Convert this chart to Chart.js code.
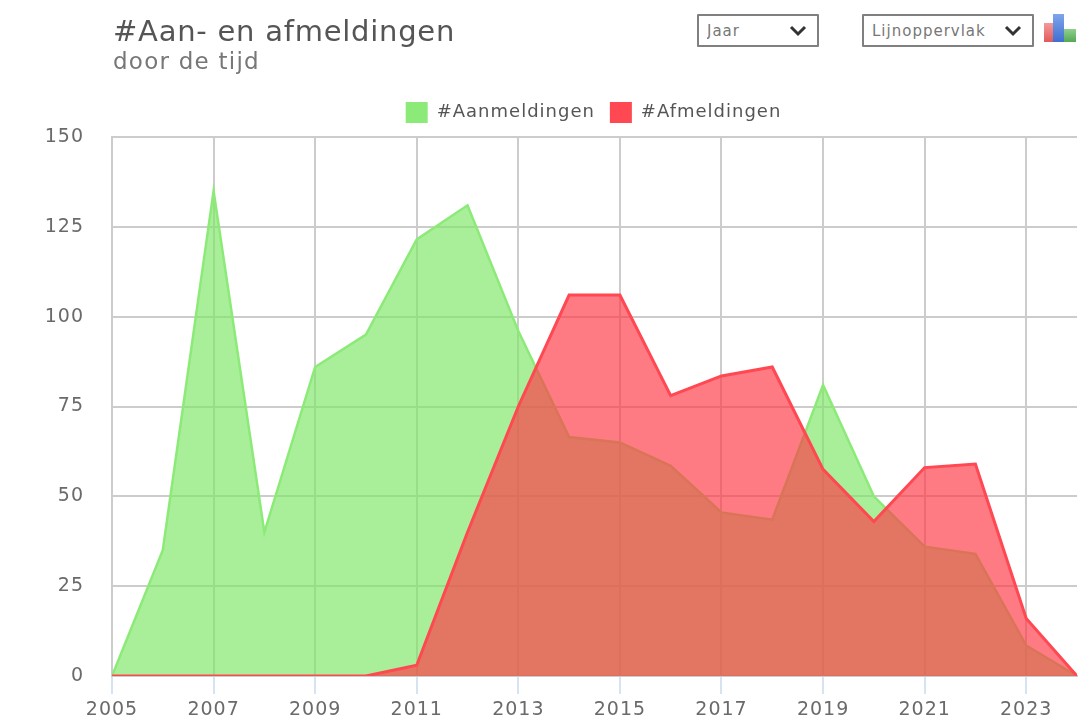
<!DOCTYPE html>
<html lang="nl">
<head>
<meta charset="utf-8">
<title>#Aan- en afmeldingen</title>
<script src="https://cdn.jsdelivr.net/npm/chart.js@4/dist/chart.umd.min.js"></script>
<style>
html,body{margin:0;padding:0;background:#fff;width:1078px;height:720px;overflow:hidden}
#page{position:relative;width:1078px;height:720px;filter:blur(.6px);font-family:"DejaVu Sans",sans-serif}
#c{position:absolute;left:0;top:0}
.t{position:absolute;white-space:nowrap}
#title{left:113px;top:13px;font-size:29px;letter-spacing:.75px;color:#555;line-height:36px}
#sub{left:113px;top:46px;font-size:23px;letter-spacing:1.25px;color:#777;line-height:30px}
select{position:absolute;top:14px;height:33px;box-sizing:border-box;border:2px solid #808080;background:#fff no-repeat;appearance:none;-webkit-appearance:none;border-radius:1px;color:#777;font-family:"DejaVu Sans",sans-serif;font-size:15px;letter-spacing:1px;padding:0 0 0 8px;
background-image:url("data:image/svg+xml,%3Csvg xmlns='http://www.w3.org/2000/svg' width='18' height='12'%3E%3Cpath d='M2 2l7 7 7-7' fill='none' stroke='%23333' stroke-width='3'/%3E%3C/svg%3E");background-position:right 10px center}
#s1{left:697px;width:122px}
#s2{left:862px;width:172px}
.b{position:absolute}
</style>
</head>
<body>
<div id="page">
<canvas id="c" width="1078" height="720"></canvas>
<div class="t" id="title">#Aan- en afmeldingen</div>
<div class="t" id="sub">door de tijd</div>
<select id="s1"><option>Jaar</option></select>
<select id="s2"><option>Lijnoppervlak</option></select>
<div class="b" style="left:1044px;top:23px;width:10px;height:19px;background:linear-gradient(#f49a9a,#e05a5a)"></div>
<div class="b" style="left:1053px;top:14px;width:11px;height:28px;background:linear-gradient(#7fa6ea,#3f6fd0)"></div>
<div class="b" style="left:1064px;top:29px;width:12px;height:13px;background:linear-gradient(#8fd08f,#55a855)"></div>
</div>
<script>
const years = [2005,2006,2007,2008,2009,2010,2011,2012,2013,2014,2015,2016,2017,2018,2019,2020,2021,2022,2023,2024];
const tickYears = [2005,2007,2009,2011,2013,2015,2017,2019,2021,2023];
const aanmeldingen = [0,35,135,40,86,95,121.5,131,96,66.5,65,58.5,45.5,43.5,81,50,36,34,8.5,0];
const afmeldingen = [0,0,0,0,0,0,3,40,75,106,106,78,83.5,86,57.5,43,58,59,16,0];
const seriesNames = ['#Aanmeldingen','#Afmeldingen'];
const toPoints = vals => vals.map((v,i)=>({x:years[i],y:v}));
const textColor = '#6a6a6a';
const tickFont = {family:'"DejaVu Sans",sans-serif',size:19};
const canvas = document.getElementById('c');
const spacing = {id:'spacing',
  beforeUpdate(chart){chart.ctx.letterSpacing='1px'},
  beforeDraw(chart){chart.ctx.letterSpacing='1px'}
};
const shiftLegend = {id:'shiftLegend',afterLayout(chart){
  chart.legend.left += 110;
  chart.legend.top -= 4;
  chart.legend.adjustHitBoxes();
}};
new Chart(canvas,{
  type:'line',
  plugins:[spacing,shiftLegend],
  data:{datasets:[
    {label:seriesNames[0],data:toPoints(aanmeldingen),order:2,fill:'origin',tension:0,pointRadius:0,borderWidth:2.5,
     borderColor:'rgb(140,234,120)',backgroundColor:'rgba(127,231,104,.67)'},
    {label:seriesNames[1],data:toPoints(afmeldingen),order:1,fill:'origin',tension:0,pointRadius:0,borderWidth:3,
     borderColor:'rgb(255,72,82)',backgroundColor:'rgba(255,58,72,.67)'}
  ]},
  options:{
    responsive:false,animation:false,
    layout:{padding:{left:0,right:1,top:91,bottom:0}},
    plugins:{
      tooltip:{enabled:false},
      title:{display:false},
      legend:{position:'top',labels:{boxWidth:22,boxHeight:21,padding:15,color:'#555',
        font:{family:'"DejaVu Sans",sans-serif',size:18},
        generateLabels(chart){
          return chart.data.datasets.map((d,i)=>({text:d.label,fillStyle:d.borderColor,strokeStyle:d.borderColor,lineWidth:0,datasetIndex:i,fontColor:'#555'}));
        }}}
    },
    scales:{
      x:{type:'linear',min:2005,max:2024,
        afterBuildTicks(s){s.ticks = tickYears.map(v=>({value:v}))},
        afterFit(s){s.height=44},
        border:{color:'#ccc',width:2},
        grid:{color:'#ccc',lineWidth:2,tickColor:'#d5e3f2',tickLength:18},
        ticks:{autoSkip:false,maxRotation:0,color:textColor,font:tickFont,padding:5,callback:v=>String(v)}},
      y:{min:0,max:150,
        afterFit(s){s.width=112},
        border:{color:'#ccc',width:2},
        grid:{color:'#ccc',lineWidth:2,drawTicks:false},
        ticks:{stepSize:25,color:textColor,font:tickFont,padding:28}}
    }
  }
});
</script>
</body>
</html>
